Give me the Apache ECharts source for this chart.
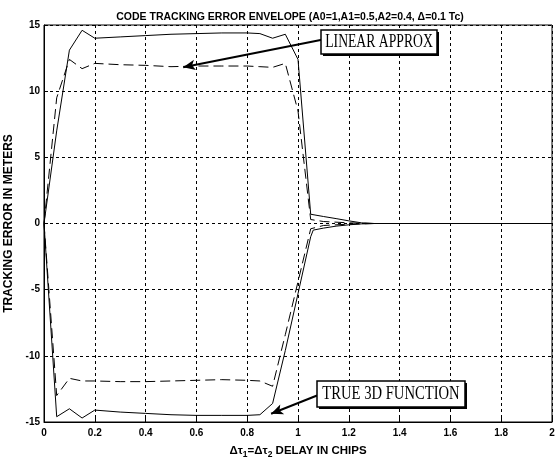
<!DOCTYPE html>
<html>
<head>
<meta charset="utf-8">
<script src="https://cdn.jsdelivr.net/npm/echarts@6/dist/echarts.min.js"></script>
<style>
html,body{margin:0;padding:0;background:#fff;}
#chart{width:555px;height:458px;}
</style>
</head>
<body>
<div id="chart"></div>
<script>
// ---- data ----
var titleText = 'CODE TRACKING ERROR ENVELOPE (A0=1,A1=0.5,A2=0.4, \u0394=0.1 Tc)';
var xTicks = [0, 0.2, 0.4, 0.6, 0.8, 1, 1.2, 1.4, 1.6, 1.8, 2];
var yTicks = [-15, -10, -5, 0, 5, 10, 15];

// TRUE 3D FUNCTION (solid) upper & lower envelopes: [delay, error]
var trueUpper = [[0,0],[0.05,7.0],[0.1,13.1],[0.15,14.6],[0.2,14.0],[0.3,14.1],[0.4,14.2],[0.5,14.3],[0.6,14.35],[0.7,14.4],[0.8,14.4],[0.85,14.35],[0.9,14.0],[0.95,14.3],[1.0,12.4],[1.05,0.7],[1.1,0.53],[1.15,0.37],[1.2,0.2],[1.25,0.05],[1.3,0],[2.0,0]];
var trueLower = [[0,0],[0.05,-14.6],[0.1,-14.0],[0.15,-14.7],[0.2,-14.1],[0.3,-14.25],[0.4,-14.35],[0.5,-14.45],[0.6,-14.5],[0.7,-14.5],[0.8,-14.5],[0.85,-14.45],[0.9,-13.6],[0.95,-9.6],[1.0,-5.3],[1.05,-1.0],[1.06,-0.5],[1.1,-0.35],[1.15,-0.2],[1.2,-0.1],[1.25,-0.03],[1.3,0],[2.0,0]];
// LINEAR APPROX (dashed) upper & lower envelopes
var linUpper = [[0,0],[0.05,9.5],[0.1,12.4],[0.15,11.7],[0.2,12.1],[0.3,12.0],[0.4,11.95],[0.5,11.85],[0.6,11.9],[0.7,11.9],[0.8,11.9],[0.85,11.85],[0.9,11.8],[0.95,12.1],[1.0,8.5],[1.05,0.3],[1.1,0.15],[1.2,0.05],[1.3,0],[2.0,0]];
var linLower = [[0,0],[0.05,-13.0],[0.1,-11.7],[0.15,-11.9],[0.2,-11.9],[0.3,-11.95],[0.4,-11.95],[0.5,-11.9],[0.6,-11.85],[0.7,-11.8],[0.8,-11.85],[0.85,-11.9],[0.9,-12.3],[0.95,-8.4],[1.0,-4.4],[1.05,-0.4],[1.1,-0.15],[1.2,-0.05],[1.3,0],[2.0,0]];

// annotation arrows (data coordinates): [start, tip]
var linArrow = [[1.094, 13.88], [0.548, 11.81]];
var trueArrow = [[1.075, -13.0], [0.894, -14.38]];

var chart = echarts.init(document.getElementById('chart'), null, {renderer: 'canvas'});
var FONT = 'Liberation Sans';
var tickFont = {color: '#000', fontFamily: FONT, fontSize: 10, fontWeight: 'bold'};
var gridLine = {show: true, lineStyle: {color: '#000', type: [3, 3], width: 1}};

function lineSeries(data, dashed, extra) {
  var s = {
    type: 'line', data: data, symbol: 'none', silent: true, animation: false,
    lineStyle: {color: '#000', width: 1, type: dashed ? [10, 5] : 'solid'}
  };
  if (extra) { for (var k in extra) s[k] = extra[k]; }
  return s;
}
function arrowMark(a) {
  return {
    silent: true, animation: false,
    symbol: ['none', 'arrow'], symbolSize: [8, 12],
    label: {show: false},
    lineStyle: {color: '#000', width: 2, type: 'solid'},
    data: [[{coord: a[0]}, {coord: a[1]}]]
  };
}

chart.setOption({
  backgroundColor: '#fff',
  animation: false,
  title: {
    text: titleText, left: 285, top: 7, textAlign: 'center',
    textStyle: {color: '#000', fontFamily: FONT, fontSize: 10.5, fontWeight: 'bold'}
  },
  grid: {left: 44, right: 3, top: 25, bottom: 36, containLabel: false, outerBoundsMode: 'none',
    show: true, borderColor: '#000', borderWidth: 1},
  xAxis: {
    type: 'value', min: xTicks[0], max: xTicks[xTicks.length - 1], interval: 0.2,
    axisLine: {show: true, onZero: false, lineStyle: {color: '#000', width: 1}},
    axisTick: {show: true, inside: true, length: 4, lineStyle: {color: '#000'}},
    axisLabel: Object.assign({margin: 6}, tickFont),
    splitLine: gridLine,
    name: '{a|\u0394\u03c4}{s|1}{a|=\u0394\u03c4}{s|2}{a| DELAY IN CHIPS}',
    nameLocation: 'middle', nameGap: 21,
    nameTextStyle: {
      rich: {
        a: {color: '#000', fontFamily: FONT, fontSize: 11.5, fontWeight: 'bold'},
        s: {color: '#000', fontFamily: FONT, fontSize: 8.5, fontWeight: 'bold', padding: [7, 0, 0, 0]}
      }
    }
  },
  yAxis: {
    type: 'value', min: yTicks[0], max: yTicks[yTicks.length - 1], interval: 5,
    axisLine: {show: true, onZero: false, lineStyle: {color: '#000', width: 1}},
    axisTick: {show: true, inside: true, length: 4, lineStyle: {color: '#000'}},
    axisLabel: Object.assign({margin: 4}, tickFont),
    splitLine: gridLine,
    name: 'TRACKING ERROR IN METERS', nameLocation: 'middle', nameGap: 15,
    nameTextStyle: {color: '#000', fontFamily: FONT, fontSize: 12, fontWeight: 'bold'}
  },
  series: [
    lineSeries(trueUpper, false),
    lineSeries(trueLower, false, {markLine: arrowMark(trueArrow)}),
    lineSeries(linUpper, true, {markLine: arrowMark(linArrow)}),
    lineSeries(linLower, true)
  ],
  graphic: [
    {type: 'rect', shape: {x: 323, y: 32, width: 116, height: 24}, style: {fill: '#000'}, z: 100},
    {type: 'rect', shape: {x: 321, y: 30, width: 116, height: 24}, style: {fill: '#fff', stroke: '#000', lineWidth: 1.5}, z: 101},
    {type: 'text', x: 379, y: 42, scaleX: 0.72, z: 102,
      style: {text: 'LINEAR APPROX', fill: '#000', font: '19px "Liberation Serif"', textAlign: 'center', textVerticalAlign: 'middle', align: 'center', verticalAlign: 'middle'}},
    {type: 'rect', shape: {x: 319, y: 383, width: 148, height: 26}, style: {fill: '#000'}, z: 100},
    {type: 'rect', shape: {x: 317, y: 381, width: 148, height: 26}, style: {fill: '#fff', stroke: '#000', lineWidth: 1.5}, z: 101},
    {type: 'text', x: 391, y: 394, scaleX: 0.77, z: 102,
      style: {text: 'TRUE 3D FUNCTION', fill: '#000', font: '19px "Liberation Serif"', textAlign: 'center', textVerticalAlign: 'middle', align: 'center', verticalAlign: 'middle'}}
  ]
});
</script>
</body>
</html>
